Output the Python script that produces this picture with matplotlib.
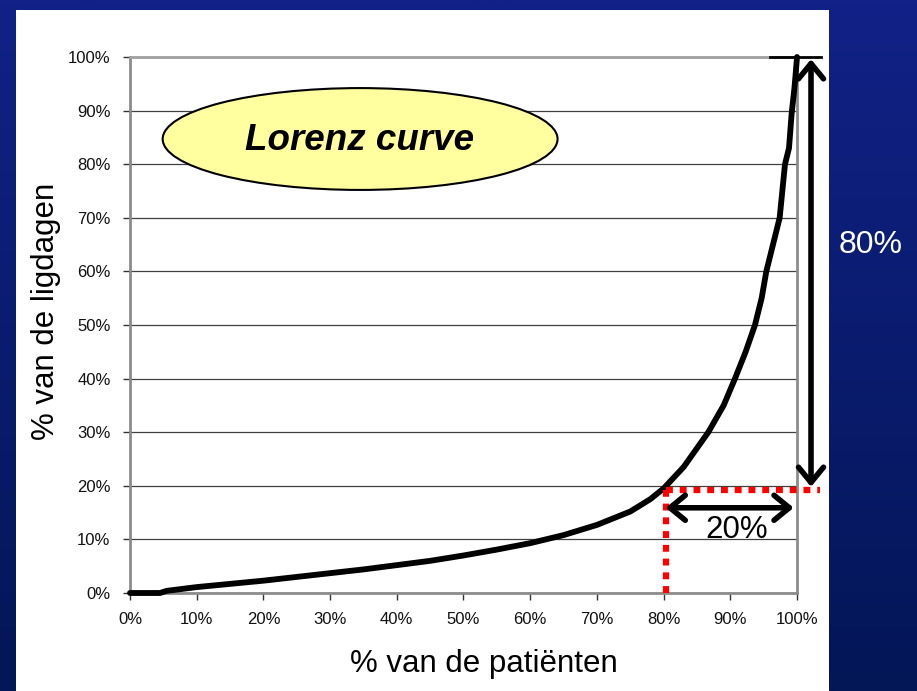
import numpy as np
import matplotlib
matplotlib.use("Agg")
import matplotlib.pyplot as plt
from matplotlib.patches import Ellipse, Rectangle

plt.rcParams['font.family'] = ['Liberation Sans', 'DejaVu Sans']

# ---- data ----
lorenz_x = [0, 4.5, 5.5, 10, 15, 20, 25, 30, 35, 40, 45, 50, 55, 60, 65, 70, 75, 78,
            80, 83, 86.7, 89, 90.7, 92.3, 93.7, 94.7, 95.4, 96.4, 97.4, 97.8, 98.2,
            98.8, 99.2, 99.6, 99.85, 100]
lorenz_y = [0, 0, 0.4, 1.1, 1.7, 2.3, 3.0, 3.7, 4.4, 5.2, 6.0, 7.0, 8.1, 9.3, 10.8,
            12.7, 15.2, 17.5, 19.5, 23.5, 30, 35, 40, 45, 50, 55, 60, 65, 70, 75, 80,
            83, 89.5, 94, 97.6, 100]
tick_values = [0, 10, 20, 30, 40, 50, 60, 70, 80, 90, 100]
tick_labels = [f"{v}%" for v in tick_values]
split_patients = 80   # % of patients
split_days = 20       # % of days
title_text = "Lorenz curve"
xlabel_text = "% van de patiënten"
ylabel_text = "% van de ligdagen"

W, H = 917, 691
fig = plt.figure(figsize=(W / 100, H / 100), dpi=100)

# ---- background: blue gradient + white panel ----
bg = fig.add_axes([0, 0, 1, 1], zorder=-10)
bg.set_xlim(0, W)
bg.set_ylim(H, 0)
bg.axis('off')
top = np.array([17, 33, 135]) / 255.0
bot = np.array([3, 22, 86]) / 255.0
t = np.linspace(0, 1, 256)[:, None, None]
grad = top[None, None, :] * (1 - t) + bot[None, None, :] * t
bg.imshow(grad, extent=[0, W, H, 0], aspect='auto')
bg.add_patch(Rectangle((16, 10), 813, 690, facecolor='white', edgecolor='none'))

# ---- main axes ----
ax = fig.add_axes([130 / W, 98 / H, 667 / W, 536 / H])
ax.set_xlim(0, 100)
ax.set_ylim(0, 100)
ax.set_xticks(tick_values)
ax.set_xticklabels(tick_labels)
ax.set_yticks(tick_values)
ax.set_yticklabels(tick_labels)
ax.tick_params(axis='both', length=5, width=1, color='#333333', labelsize=12,
               labelcolor='#111111', pad=9)
ax.yaxis.grid(True, color='#404040', lw=0.9, zorder=0)
ax.set_axisbelow(True)
for s in ax.spines.values():
    s.set_color('#8c8c8c')
    s.set_linewidth(2)
ax.spines['top'].set_color('#a0a0a0')

ax.plot(lorenz_x, lorenz_y, color='black', lw=4.2, solid_capstyle='round',
        solid_joinstyle='round', zorder=5, clip_on=False)

# labels
ax.set_xlabel(xlabel_text, fontsize=22.5, va='center')
ax.xaxis.set_label_coords(0.531, -0.1325)
ax.set_ylabel(ylabel_text, fontsize=22.5, va='center')
ax.yaxis.set_label_coords(-0.126, 0.526)

# ellipse with title
ax.add_patch(Ellipse((34.5, 84.7), 59.2, 19.0, facecolor='#ffffa0', edgecolor='black',
                     lw=1.5, zorder=6))
ax.text(34.4, 84.4, title_text, fontsize=26.5, fontweight='bold', fontstyle='italic',
        ha='center', va='center', zorder=7)

# red dotted guide lines
red_y = split_days - 0.8
ax.plot([split_patients + 0.3, split_patients + 0.3], [0, red_y], color='red', lw=4.5,
        ls=(0, (1.1, 1.1)), clip_on=False, zorder=8)
ax.plot([split_patients + 0.3, 103.4], [red_y, red_y], color='red', lw=4.5,
        ls=(0, (1.1, 1.1)), clip_on=False, zorder=8)

# top extension line
ax.plot([95.9, 103.6], [100, 100], color='black', lw=2, clip_on=False, zorder=8)

arrow_style = dict(arrowstyle='<->,head_length=0.55,head_width=0.45', lw=4,
                   color='black', shrinkA=0, shrinkB=0, mutation_scale=20)
# vertical double arrow (80%)
ax.annotate('', xy=(102.1, 99.6), xytext=(102.1, split_days - 0.2),
            arrowprops=arrow_style, annotation_clip=False, zorder=9)
# horizontal double arrow (20%)
ax.annotate('', xy=(split_patients + 0.3, 15.9), xytext=(99.5, 15.9),
            arrowprops=arrow_style, annotation_clip=False, zorder=9)

ax.text(91.0, 11.8, f"{100 - split_patients}%", fontsize=22.5, ha='center', va='center',
        zorder=9)
fig.text(871 / W, 1 - 245 / H, f"{100 - split_days}%", fontsize=23, color='white',
         ha='center', va='center')

fig.savefig('out.png', dpi=100)
